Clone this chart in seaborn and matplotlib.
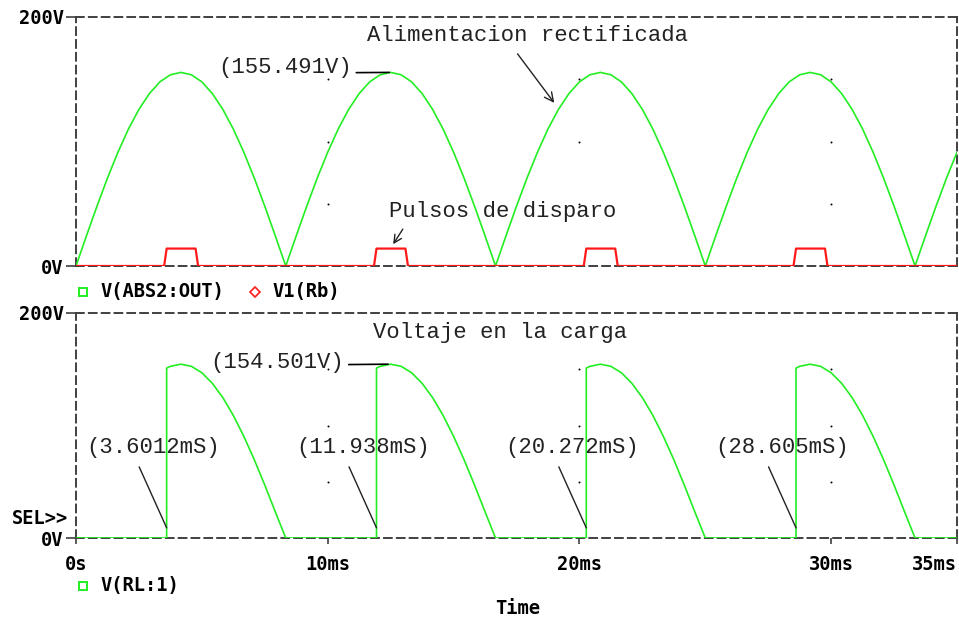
import matplotlib
matplotlib.use("Agg")
import matplotlib.pyplot as plt
import numpy as np
import pandas as pd
import seaborn as sns

# values (time in ms, volts)
v_abs = [
    0, 24.3, 48.0, 70.6, 91.4, 110.0, 125.8, 138.5, 147.9, 153.6, 155.5,
    153.6, 147.9, 138.5, 125.8, 110.0, 91.4, 70.6, 48.0, 24.3,
    0, 24.3, 48.0, 70.6, 91.4, 110.0, 125.8, 138.5, 147.9, 153.6, 155.5,
    153.6, 147.9, 138.5, 125.8, 110.0, 91.4, 70.6, 48.0, 24.3,
    0, 24.3, 48.0, 70.6, 91.4, 110.0, 125.8, 138.5, 147.9, 153.6, 155.5,
    153.6, 147.9, 138.5, 125.8, 110.0, 91.4, 70.6, 48.0, 24.3,
    0, 24.3, 48.0, 70.6, 91.4, 110.0, 125.8, 138.5, 147.9, 153.6, 155.5,
    153.6, 147.9, 138.5, 125.8, 110.0, 91.4, 70.6, 48.0, 24.3,
    0, 24.3, 48.0, 70.6, 91.4,
]
t_abs = np.linspace(0, 35, len(v_abs))

fire_ms = [3.6012, 11.938, 20.272, 28.605]
pulse_on = 14.0
pulse_width = 1.15
pulse_edge = 0.1

load_jump = 151.0
load_tail = [152.6, 154.5, 152.6, 146.9, 137.5, 124.8, 109.0, 90.4, 69.6, 47.0, 23.3, 0.0]

grid_t = [10, 20, 30]
grid_v = [50, 100, 150]

# build pulse and load series from the values above
pulse_t, pulse_v = [0.0], [0.0]
for f in fire_ms:
    pulse_t += [f - pulse_edge, f, f + pulse_width, f + pulse_width + pulse_edge]
    pulse_v += [0.0, pulse_on, pulse_on, 0.0]
pulse_t.append(35.0)
pulse_v.append(0.0)

load_t, load_v = [0.0], [0.0]
for n, f in enumerate(fire_ms):
    load_t += [f, f]
    load_v += [0.0, load_jump]
    load_t += list(t_abs[20 * n + 9:20 * n + 21])
    load_v += load_tail
load_t.append(35.0)
load_v.append(0.0)

df_abs = pd.DataFrame({"t": t_abs, "v": v_abs})
df_pulse = pd.DataFrame({"t": pulse_t, "v": pulse_v})
df_load = pd.DataFrame({"t": load_t, "v": load_v})

GREEN = "#22ee22"
RED = "#ff1a1a"
FRAME = "#404040"
TXT = "#222222"
MONO = "Liberation Mono"
BOLD = dict(family="DejaVu Sans Mono", weight="bold", size=13.5, color="black")
ANN = dict(family=MONO, size=16, color=TXT)

sns.set_style("white")
fig = plt.figure(figsize=(9.59, 6.20), dpi=100)
ax1 = fig.add_axes([76 / 959, 354 / 620, 881 / 959, 249 / 620])
ax2 = fig.add_axes([76 / 959, 82 / 620, 881 / 959, 225 / 620])

for ax in (ax1, ax2):
    ax.set_xlim(0, 35)
    ax.set_ylim(0, 200)
    for s in ax.spines.values():
        s.set_visible(True)
        s.set_color(FRAME)
        s.set_linewidth(1.4)
        s.set_linestyle((0, (4, 2.6)))
    ax.set_yticks([0, 200])
    ax.set_yticklabels(["0V", "200V"], fontdict=BOLD)
    ax.tick_params(axis="y", length=7, width=1.2, color=FRAME, pad=2, left=True)
    gx, gy = np.meshgrid(grid_t, grid_v)
    ax.scatter(gx.ravel(), gy.ravel(), s=2, color="black", zorder=1, linewidths=0)

sns.lineplot(data=df_abs, x="t", y="v", ax=ax1, estimator=None, sort=False,
             color=GREEN, lw=1.2, zorder=3)
sns.lineplot(data=df_pulse, x="t", y="v", ax=ax1, estimator=None, sort=False,
             color=RED, lw=1.6, zorder=4)
sns.lineplot(data=df_load, x="t", y="v", ax=ax2, estimator=None, sort=False,
             color=GREEN, lw=1.2, zorder=3)

ax1.set_xticks([])
ax2.set_xticks([0, 10, 20, 30, 35])
ax2.set_xticklabels(["0s", "10ms", "20ms", "30ms", "35ms"], fontdict=BOLD)
ax2.get_xticklabels()[-1].set_horizontalalignment("right")
ax2.tick_params(axis="x", length=4, width=1.2, color=FRAME, pad=8, bottom=True)
for ax in (ax1, ax2):
    ax.set_xlabel("")
    ax.set_ylabel("")

# annotations, top panel
ax1.annotate("Alimentacion rectificada", xy=(19.0, 131), xytext=(17.95, 185),
             ha="center", va="center", **ANN,
             arrowprops=dict(arrowstyle="->", color=TXT, lw=1, relpos=(0.45, 0),
                             shrinkA=4, shrinkB=0, mutation_scale=16))
ax1.annotate("(155.491V)", xy=(12.45, 155.491), xytext=(10.95, 159.5),
             ha="right", va="center", **ANN,
             arrowprops=dict(arrowstyle="-", color="black", lw=1.2, relpos=(1, 0.25),
                             shrinkA=1, shrinkB=0))
ax1.annotate("Pulsos de disparo", xy=(12.6, 17.5), xytext=(16.95, 43.5),
             ha="center", va="center", **ANN,
             arrowprops=dict(arrowstyle="->", color=TXT, lw=1, relpos=(0.08, 0),
                             shrinkA=3, shrinkB=0, mutation_scale=14))

# annotations, bottom panel
ax2.text(16.85, 183, "Voltaje en la carga", ha="center", va="center", **ANN)
ax2.annotate("(154.501V)", xy=(12.4, 154.501), xytext=(10.65, 156),
             ha="right", va="center", **ANN,
             arrowprops=dict(arrowstyle="-", color="black", lw=1.2, relpos=(1, 0.4),
                             shrinkA=1, shrinkB=0))
for f in fire_ms:
    label = "(%smS)" % ("%.4f" % f if f < 10 else "%.3f" % f)
    ax2.annotate(label, xy=(f, 9), xytext=(f - 0.55, 80),
                 ha="center", va="center", **ANN,
                 arrowprops=dict(arrowstyle="-", color=TXT, lw=1, relpos=(0.37, 0),
                                 shrinkA=4, shrinkB=0))

# legends and labels
leg_y1 = 328 / 620
fig.add_artist(plt.Line2D([83 / 959], [leg_y1], marker="s", ms=6, mfc="none",
                          mec=GREEN, mew=1.4, ls="none"))
fig.text(100 / 959, leg_y1, "V(ABS2:OUT)", va="center", ha="left", **BOLD)
fig.add_artist(plt.Line2D([255 / 959], [leg_y1], marker="D", ms=5, mfc="none",
                          mec=RED, mew=1.2, ls="none"))
fig.text(272 / 959, leg_y1, "V1(Rb)", va="center", ha="left", **BOLD)

leg_y2 = 34 / 620
fig.add_artist(plt.Line2D([83 / 959], [leg_y2], marker="s", ms=6, mfc="none",
                          mec=GREEN, mew=1.4, ls="none"))
fig.text(100 / 959, leg_y2, "V(RL:1)", va="center", ha="left", **BOLD)

fig.text(68 / 959, 102 / 620, "SEL>>", va="center", ha="right", **BOLD)
fig.text(518 / 959, 12 / 620, "Time", va="center", ha="center", **BOLD)

fig.savefig("out.png", dpi=100, facecolor="white")
